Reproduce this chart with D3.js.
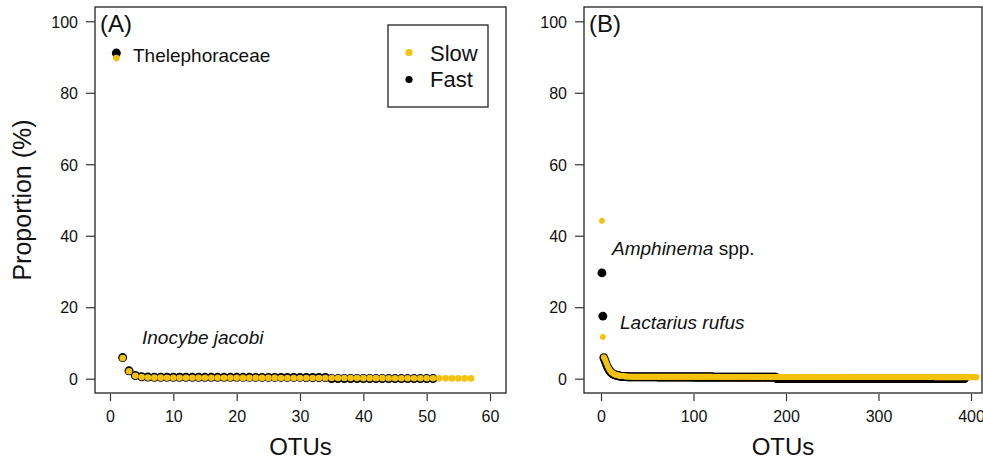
<!DOCTYPE html>
<html>
<head>
<meta charset="utf-8">
<script src="https://cdn.jsdelivr.net/npm/d3@7"></script>
<style>
  body { margin: 0; background: #fff; }
  svg { display: block; font-family: "Liberation Sans", Arial, sans-serif; }
</style>
</head>
<body>
<div id="chart"></div>
<script>
// proportions (%) per OTU rank
let slowA = [
  89.7, 5.8, 2.1, 0.8, 0.45, 0.35, 0.3, 0.3, 0.28, 0.28,
  0.27, 0.27, 0.26, 0.26, 0.25, 0.25, 0.25, 0.24, 0.24, 0.24,
  0.23, 0.23, 0.23, 0.22, 0.22, 0.22, 0.21, 0.21, 0.21, 0.2,
  0.2, 0.2, 0.19, 0.19, 0.19, 0.18, 0.18, 0.17, 0.17, 0.16,
  0.16, 0.15, 0.15, 0.14, 0.14, 0.13, 0.13, 0.12, 0.12, 0.11,
  0.11, 0.1, 0.1, 0.09, 0.09, 0.08, 0.08
];
let fastA = [
  91.1, 5.9, 2.2, 0.9, 0.55, 0.45, 0.42, 0.42, 0.41, 0.41,
  0.4, 0.4, 0.4, 0.4, 0.39, 0.39, 0.39, 0.39, 0.38, 0.38,
  0.38, 0.38, 0.37, 0.37, 0.37, 0.37, 0.36, 0.36, 0.36, 0.36,
  0.35, 0.35, 0.35, 0.35, 0.05, 0.05, 0.05, 0.05, 0.05, 0.05,
  0.05, 0.05, 0.04, 0.04, 0.04, 0.04, 0.03, 0.03, 0.03, 0.03,
  0.03
];
let slowB = [
  44.2, 11.7, 6.0, 5.6, 5.0, 4.3, 3.7, 3.1, 2.6, 2.2, 1.9, 1.7, 1.5, 1.35, 1.2, 1.1, 1.0, 0.95, 0.9, 0.85,
  0.8, 0.75, 0.72, 0.7, 0.68, 0.66, 0.64, 0.62, 0.6, 0.6, 0.59, 0.59, 0.58, 0.58, 0.58, 0.57, 0.57, 0.57, 0.56, 0.56,
  0.56, 0.56, 0.56, 0.56, 0.56, 0.56, 0.56, 0.56, 0.56, 0.56, 0.56, 0.56, 0.56, 0.56, 0.56, 0.56, 0.56, 0.56, 0.56, 0.56,
  0.55, 0.55, 0.55, 0.55, 0.55, 0.55, 0.55, 0.55, 0.55, 0.55, 0.55, 0.55, 0.55, 0.55, 0.55, 0.55, 0.55, 0.55, 0.55, 0.55,
  0.55, 0.55, 0.55, 0.55, 0.55, 0.55, 0.55, 0.55, 0.55, 0.55, 0.55, 0.55, 0.55, 0.55, 0.55, 0.55, 0.55, 0.55, 0.55, 0.55,
  0.54, 0.54, 0.54, 0.54, 0.54, 0.54, 0.54, 0.54, 0.54, 0.54, 0.54, 0.54, 0.54, 0.54, 0.54, 0.54, 0.54, 0.54, 0.54, 0.54,
  0.53, 0.53, 0.53, 0.53, 0.53, 0.53, 0.53, 0.53, 0.53, 0.53, 0.53, 0.53, 0.53, 0.53, 0.53, 0.53, 0.53, 0.53, 0.53, 0.53,
  0.52, 0.52, 0.52, 0.52, 0.52, 0.52, 0.52, 0.52, 0.52, 0.52, 0.52, 0.52, 0.52, 0.52, 0.52, 0.52, 0.52, 0.52, 0.52, 0.52,
  0.51, 0.51, 0.51, 0.51, 0.51, 0.51, 0.51, 0.51, 0.51, 0.51, 0.51, 0.51, 0.51, 0.51, 0.51, 0.51, 0.51, 0.51, 0.51, 0.51,
  0.5, 0.5, 0.5, 0.5, 0.5, 0.5, 0.5, 0.5, 0.5, 0.5, 0.5, 0.5, 0.5, 0.5, 0.5, 0.5, 0.5, 0.5, 0.5, 0.5,
  0.49, 0.49, 0.49, 0.49, 0.49, 0.49, 0.49, 0.49, 0.49, 0.49, 0.49, 0.49, 0.49, 0.49, 0.49, 0.49, 0.49, 0.49, 0.49, 0.49,
  0.48, 0.48, 0.48, 0.48, 0.48, 0.48, 0.48, 0.48, 0.48, 0.48, 0.48, 0.48, 0.48, 0.48, 0.48, 0.48, 0.48, 0.48, 0.48, 0.48,
  0.47, 0.47, 0.47, 0.47, 0.47, 0.47, 0.47, 0.47, 0.47, 0.47, 0.47, 0.47, 0.47, 0.47, 0.47, 0.47, 0.47, 0.47, 0.47, 0.47,
  0.46, 0.46, 0.46, 0.46, 0.46, 0.46, 0.46, 0.46, 0.46, 0.46, 0.46, 0.46, 0.46, 0.46, 0.46, 0.46, 0.46, 0.46, 0.46, 0.46,
  0.45, 0.45, 0.45, 0.45, 0.45, 0.45, 0.45, 0.45, 0.45, 0.45, 0.45, 0.45, 0.45, 0.45, 0.45, 0.45, 0.45, 0.45, 0.45, 0.45,
  0.44, 0.44, 0.44, 0.44, 0.44, 0.44, 0.44, 0.44, 0.44, 0.44, 0.44, 0.44, 0.44, 0.44, 0.44, 0.44, 0.44, 0.44, 0.44, 0.44,
  0.43, 0.43, 0.43, 0.43, 0.43, 0.43, 0.43, 0.43, 0.43, 0.43, 0.43, 0.43, 0.43, 0.43, 0.43, 0.43, 0.43, 0.43, 0.43, 0.43,
  0.42, 0.42, 0.42, 0.42, 0.42, 0.42, 0.42, 0.42, 0.42, 0.42, 0.42, 0.42, 0.42, 0.42, 0.42, 0.42, 0.42, 0.42, 0.42, 0.42,
  0.41, 0.41, 0.41, 0.41, 0.41, 0.41, 0.41, 0.41, 0.41, 0.41, 0.41, 0.41, 0.41, 0.41, 0.41, 0.41, 0.41, 0.41, 0.41, 0.41,
  0.4, 0.4, 0.4, 0.4, 0.4, 0.4, 0.4, 0.4, 0.4, 0.4, 0.4, 0.4, 0.4, 0.4, 0.4, 0.4, 0.4, 0.4, 0.4, 0.4,
  0.4, 0.4, 0.4, 0.4, 0.4, 0.4
];
let fastB = [
  29.6, 17.5, 5.9, 5.3, 4.6, 3.9, 3.3, 2.8, 2.3, 2.0, 1.7, 1.5, 1.3, 1.2, 1.1, 1.0, 0.9, 0.85, 0.8, 0.75,
  0.7, 0.67, 0.64, 0.62, 0.6, 0.58, 0.56, 0.55, 0.54, 0.53, 0.52, 0.52, 0.51, 0.51, 0.5, 0.5, 0.5, 0.5, 0.5, 0.5,
  0.49, 0.49, 0.49, 0.49, 0.49, 0.49, 0.49, 0.49, 0.49, 0.49, 0.49, 0.49, 0.49, 0.49, 0.49, 0.49, 0.49, 0.49, 0.49, 0.49,
  0.48, 0.48, 0.48, 0.48, 0.48, 0.48, 0.48, 0.48, 0.48, 0.48, 0.48, 0.48, 0.48, 0.48, 0.48, 0.48, 0.48, 0.48, 0.48, 0.48,
  0.48, 0.48, 0.48, 0.48, 0.48, 0.48, 0.48, 0.48, 0.48, 0.48, 0.48, 0.48, 0.48, 0.48, 0.48, 0.48, 0.48, 0.48, 0.48, 0.48,
  0.47, 0.47, 0.47, 0.47, 0.47, 0.47, 0.47, 0.47, 0.47, 0.47, 0.47, 0.47, 0.47, 0.47, 0.47, 0.47, 0.47, 0.47, 0.47, 0.47,
  0.46, 0.46, 0.46, 0.46, 0.46, 0.46, 0.46, 0.46, 0.46, 0.46, 0.46, 0.46, 0.46, 0.46, 0.46, 0.46, 0.46, 0.46, 0.46, 0.46,
  0.46, 0.46, 0.46, 0.46, 0.46, 0.46, 0.46, 0.46, 0.46, 0.46, 0.46, 0.46, 0.46, 0.46, 0.46, 0.46, 0.46, 0.46, 0.46, 0.46,
  0.45, 0.45, 0.45, 0.45, 0.45, 0.45, 0.45, 0.45, 0.45, 0.45, 0.45, 0.45, 0.45, 0.45, 0.45, 0.45, 0.45, 0.45, 0.45, 0.45,
  0.45, 0.45, 0.45, 0.45, 0.45, 0.45, 0.45, 0.45, 0.45, 0.02, 0.02, 0.02, 0.02, 0.02, 0.02, 0.02, 0.02, 0.02, 0.02, 0.02,
  0.02, 0.02, 0.02, 0.02, 0.02, 0.02, 0.02, 0.02, 0.02, 0.02, 0.02, 0.02, 0.02, 0.02, 0.02, 0.02, 0.02, 0.02, 0.02, 0.02,
  0.02, 0.02, 0.02, 0.02, 0.02, 0.02, 0.02, 0.02, 0.02, 0.02, 0.02, 0.02, 0.02, 0.02, 0.02, 0.02, 0.02, 0.02, 0.02, 0.02,
  0.02, 0.02, 0.02, 0.02, 0.02, 0.02, 0.02, 0.02, 0.02, 0.02, 0.02, 0.02, 0.02, 0.02, 0.02, 0.02, 0.02, 0.02, 0.02, 0.02,
  0.02, 0.02, 0.02, 0.02, 0.02, 0.02, 0.02, 0.02, 0.02, 0.02, 0.02, 0.02, 0.02, 0.02, 0.02, 0.02, 0.02, 0.02, 0.02, 0.02,
  0.01, 0.01, 0.01, 0.01, 0.01, 0.01, 0.01, 0.01, 0.01, 0.01, 0.01, 0.01, 0.01, 0.01, 0.01, 0.01, 0.01, 0.01, 0.01, 0.01,
  0.01, 0.01, 0.01, 0.01, 0.01, 0.01, 0.01, 0.01, 0.01, 0.01, 0.01, 0.01, 0.01, 0.01, 0.01, 0.01, 0.01, 0.01, 0.01, 0.01,
  0.01, 0.01, 0.01, 0.01, 0.01, 0.01, 0.01, 0.01, 0.01, 0.01, 0.01, 0.01, 0.01, 0.01, 0.01, 0.01, 0.01, 0.01, 0.01, 0.01,
  0.01, 0.01, 0.01, 0.01, 0.01, 0.01, 0.01, 0.01, 0.01, 0.01, 0.01, 0.01, 0.01, 0.01, 0.01, 0.01, 0.01, 0.01, 0.01, 0.01,
  0.01, 0.01, 0.01, 0.01, 0.01, 0.01, 0.01, 0.01, 0.01, 0.01, 0.01, 0.01, 0.01, 0.01, 0.01, 0.01, 0.01, 0.01, 0.01, 0.01,
  0.01, 0.01, 0.01, 0.01, 0.01, 0.01, 0.01, 0.01, 0.01, 0.01, 0.01, 0.01, 0.01
];

let yTicks = [0, 20, 40, 60, 80, 100];
let xTicksA = [0, 10, 20, 30, 40, 50, 60];
let xTicksB = [0, 100, 200, 300, 400];
let legendLabels = ["Slow", "Fast"];

let slowColor = "#f4c20d";
let fastColor = "#000000";

let W = 983, H = 460;

let svg = d3.select("#chart")
  .append("svg")
  .attr("width", W)
  .attr("height", H);

// shared y scale (R style, 4% padding beyond 0..100)
var y = d3.scaleLinear()
  .domain([-4, 104])
  .range([393, 7]);

function drawPanel(opts) {
  var g = svg.append("g");

  var x = d3.scaleLinear()
    .domain(opts.xDomain)
    .range(opts.xRange);

  // fast first, slow drawn on top
  g.append("g").selectAll("circle")
    .data(opts.fast)
    .enter()
    .append("circle")
    .attr("cx", function(d, i) { return x(i + 1) })
    .attr("cy", function(d) { return y(d) })
    .attr("r", opts.rFast)
    .style("fill", fastColor);

  g.append("g").selectAll("circle")
    .data(opts.slow)
    .enter()
    .append("circle")
    .attr("cx", function(d, i) { return x(i + 1) })
    .attr("cy", function(d) { return y(d) })
    .attr("r", opts.rSlow)
    .style("fill", slowColor);

  // box
  g.append("rect")
    .attr("x", opts.box[0])
    .attr("y", 7)
    .attr("width", opts.box[1] - opts.box[0])
    .attr("height", 386)
    .style("fill", "none")
    .style("stroke", "#222")
    .style("stroke-width", 1.3);

  // x axis
  var xa = g.append("g")
    .attr("transform", "translate(0,394)")
    .call(d3.axisBottom(x).tickValues(opts.xTicks).tickSize(7).tickFormat(d3.format("d")));
  xa.select(".domain").remove();
  xa.selectAll("line").style("stroke", "#333").style("stroke-width", 1.2);
  xa.selectAll("text")
    .attr("y", 28)
    .attr("dy", null)
    .style("font-size", "16px")
    .style("fill", "#111")
    .style("font-family", "Liberation Sans, Arial, sans-serif");

  // y axis
  var ya = g.append("g")
    .attr("transform", "translate(" + opts.box[0] + ",0)")
    .call(d3.axisLeft(y).tickValues(yTicks).tickSize(9).tickPadding(8));
  ya.select(".domain").remove();
  ya.selectAll("line").style("stroke", "#333").style("stroke-width", 1.2);
  ya.selectAll("text")
    .attr("dy", "0.36em")
    .style("font-size", "16px")
    .style("fill", "#111")
    .style("font-family", "Liberation Sans, Arial, sans-serif");

  // panel letter
  g.append("text")
    .attr("x", opts.box[0] + 5)
    .attr("y", 32)
    .style("font-size", "24px")
    .style("fill", "#111")
    .text(opts.letter);

  // x label
  g.append("text")
    .attr("x", (opts.box[0] + opts.box[1]) / 2)
    .attr("y", 455)
    .attr("text-anchor", "middle")
    .style("font-size", "24px")
    .style("fill", "#111")
    .text("OTUs");

  return g;
}

var gA = drawPanel({
  fast: fastA, slow: slowA, xDomain: [0, 60], xRange: [110, 490],
  xTicks: xTicksA, box: [95, 506], letter: "(A)", rFast: 4.5, rSlow: 3.3
});

var gB = drawPanel({
  fast: fastB, slow: slowB, xDomain: [0, 400], xRange: [601, 971],
  xTicks: xTicksB, box: [584, 982], letter: "(B)", rFast: 4.4, rSlow: 2.9
});

// annotations
gA.append("text")
  .attr("x", 133).attr("y", 62)
  .style("font-size", "19px").style("fill", "#111")
  .text("Thelephoraceae");

gA.append("text")
  .attr("x", 142).attr("y", 344)
  .style("font-size", "19px").style("font-style", "italic").style("fill", "#111")
  .text("Inocybe jacobi");

var amph = gB.append("text")
  .attr("x", 612).attr("y", 255)
  .style("font-size", "19px").style("fill", "#111");
amph.append("tspan").style("font-style", "italic").text("Amphinema");
amph.append("tspan").text(" spp.");

gB.append("text")
  .attr("x", 620).attr("y", 329)
  .style("font-size", "19px").style("font-style", "italic").style("fill", "#111")
  .text("Lactarius rufus");

// legend
var legend = gA.append("g");
legend.append("rect")
  .attr("x", 388).attr("y", 25)
  .attr("width", 100).attr("height", 82)
  .style("fill", "#fff")
  .style("stroke", "#222")
  .style("stroke-width", 1.3);

legend.selectAll(".lg-dot")
  .data(legendLabels)
  .enter()
  .append("circle")
  .attr("class", "lg-dot")
  .attr("cx", 409)
  .attr("cy", function(d, i) { return 52.5 + i * 27 })
  .attr("r", 3.6)
  .style("fill", function(d, i) { return i == 0 ? slowColor : fastColor });

legend.selectAll(".lg-text")
  .data(legendLabels)
  .enter()
  .append("text")
  .attr("class", "lg-text")
  .attr("x", 430)
  .attr("y", function(d, i) { return 60.5 + i * 26.5 })
  .style("font-size", "22px")
  .style("fill", "#111")
  .text(function(d) { return d });

// y label
svg.append("text")
  .attr("transform", "translate(31,200) rotate(-90)")
  .attr("text-anchor", "middle")
  .style("font-size", "25px")
  .style("fill", "#111")
  .text("Proportion (%)");
</script>
</body>
</html>
